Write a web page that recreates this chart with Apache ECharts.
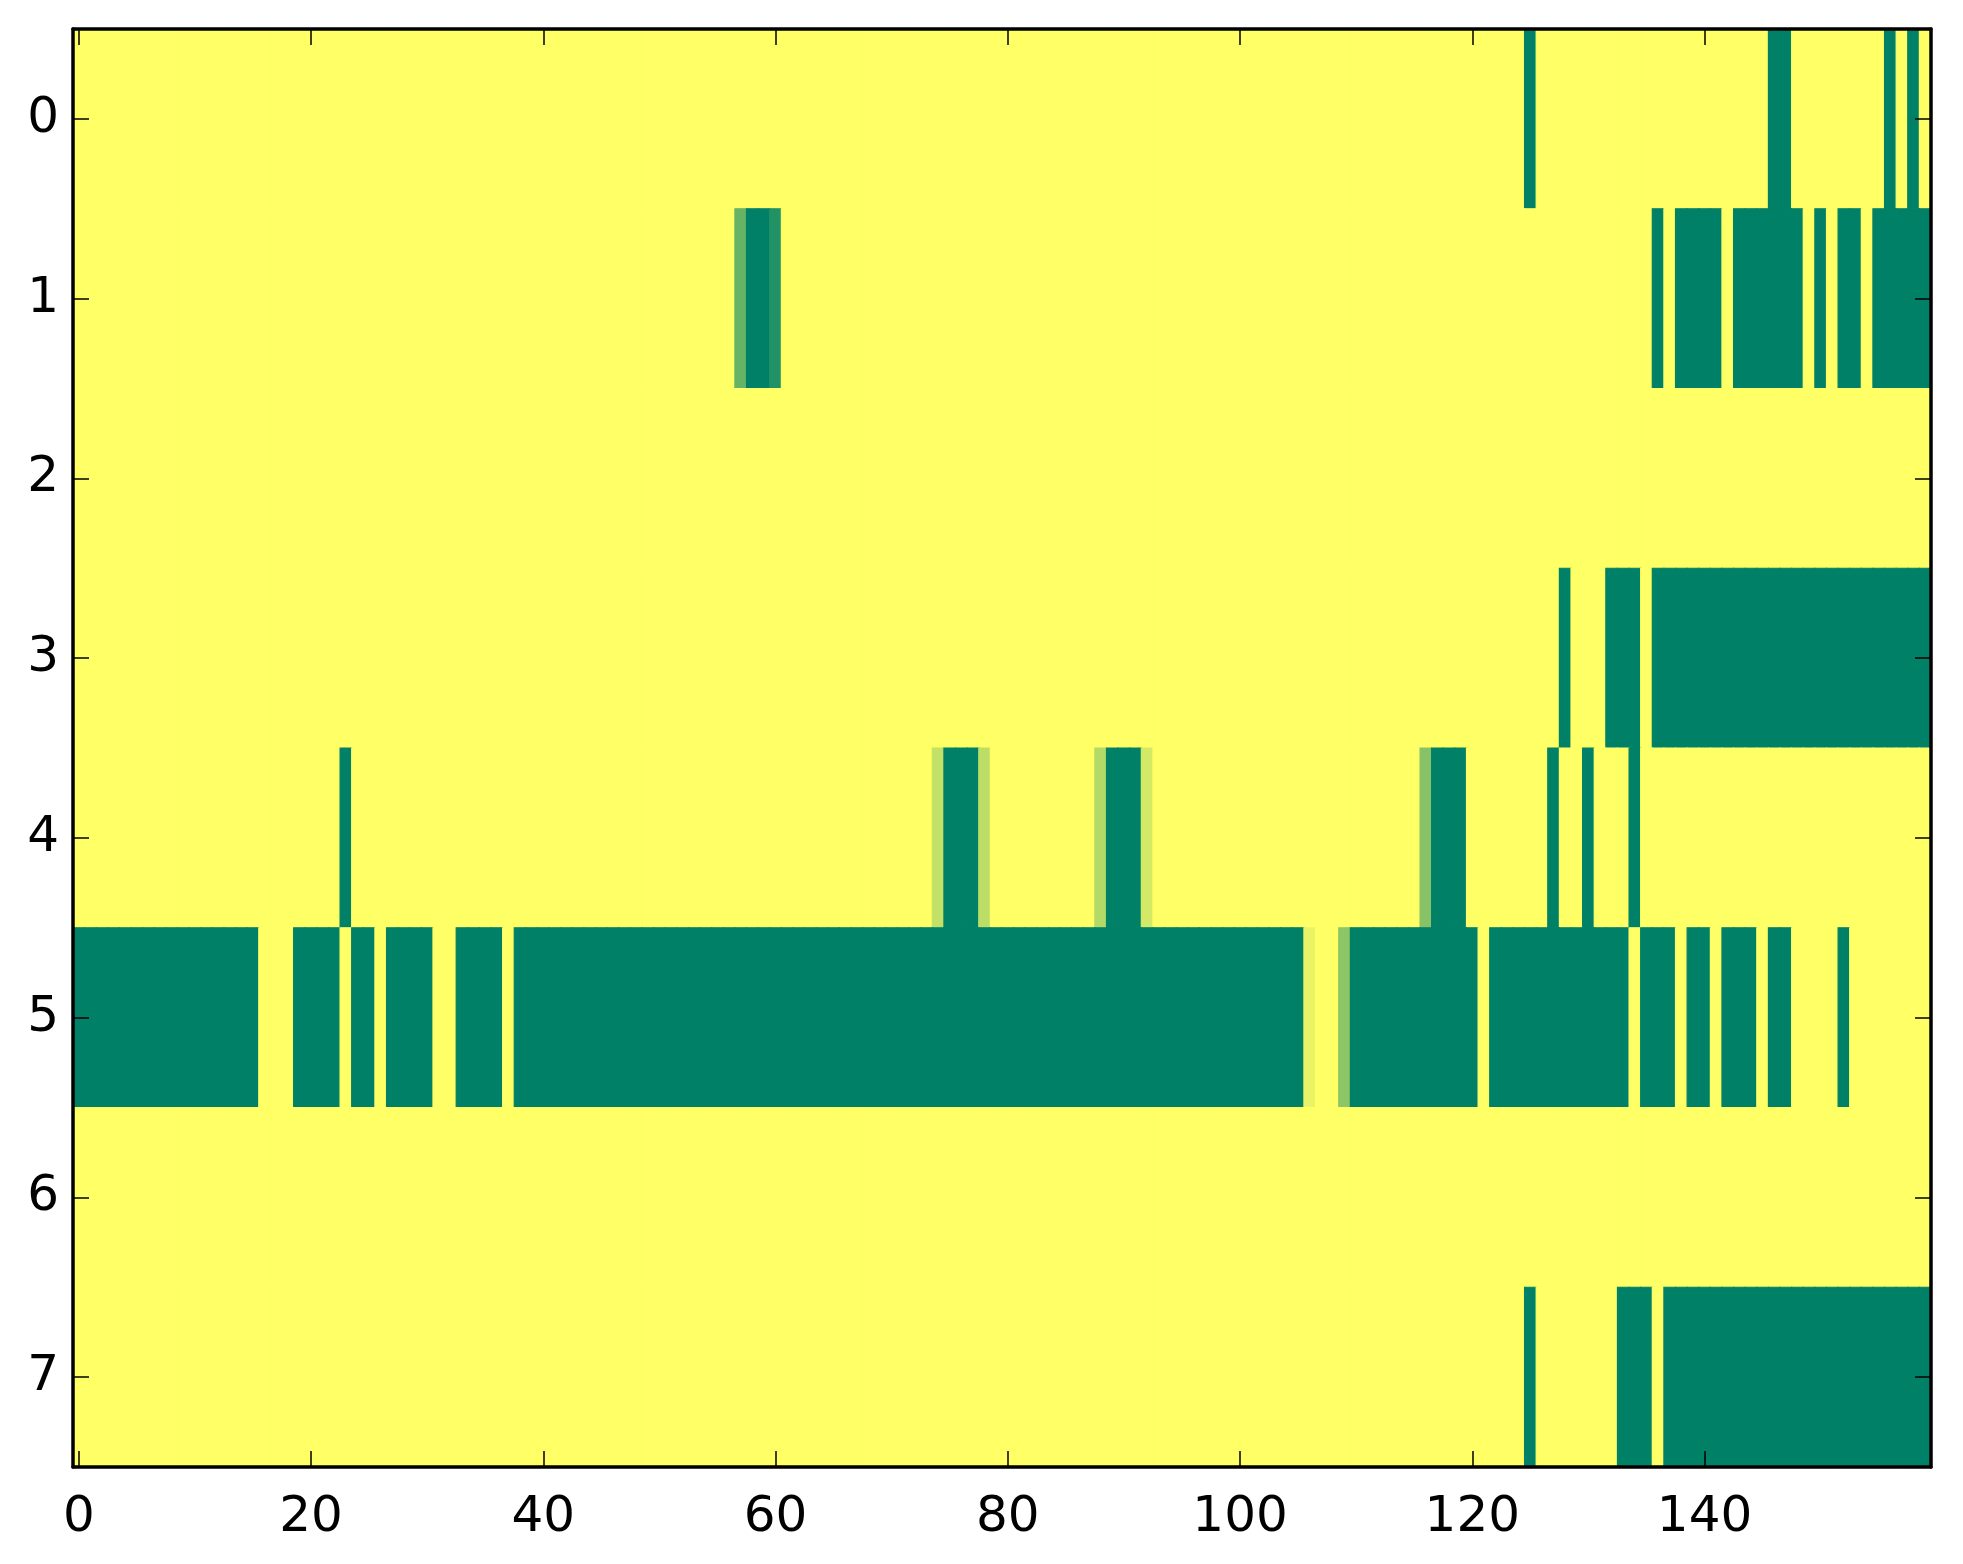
<!DOCTYPE html>
<html>
<head>
<meta charset="utf-8">
<script src="https://cdn.jsdelivr.net/npm/echarts@6/dist/echarts.min.js"></script>
<style>
html,body{margin:0;padding:0;background:#fff;}
#chart{width:1963px;height:1564px;}
</style>
</head>
<body>
<div id="chart"></div>
<script>
// Row values (1 = yellow, 0 = green), 160 columns each
var row0 = [
1,1,1,1,1,1,1,1,1,1,1,1,1,1,1,1,1,1,1,1,
1,1,1,1,1,1,1,1,1,1,1,1,1,1,1,1,1,1,1,1,
1,1,1,1,1,1,1,1,1,1,1,1,1,1,1,1,1,1,1,1,
1,1,1,1,1,1,1,1,1,1,1,1,1,1,1,1,1,1,1,1,
1,1,1,1,1,1,1,1,1,1,1,1,1,1,1,1,1,1,1,1,
1,1,1,1,1,1,1,1,1,1,1,1,1,1,1,1,1,1,1,1,
1,1,1,1,1,0,1,1,1,1,1,1,1,1,1,1,1,1,1,1,
1,1,1,1,1,1,0,0,1,1,1,1,1,1,1,1,0,1,0,1];
var row1 = [
1,1,1,1,1,1,1,1,1,1,1,1,1,1,1,1,1,1,1,1,
1,1,1,1,1,1,1,1,1,1,1,1,1,1,1,1,1,1,1,1,
1,1,1,1,1,1,1,1,1,1,1,1,1,1,1,1,1,0.4,0,0,
0.13,1,1,1,1,1,1,1,1,1,1,1,1,1,1,1,1,1,1,1,
1,1,1,1,1,1,1,1,1,1,1,1,1,1,1,1,1,1,1,1,
1,1,1,1,1,1,1,1,1,1,1,1,1,1,1,1,1,1,1,1,
1,1,1,1,1,1,1,1,1,1,1,1,1,1,1,1,0,1,0,0,
0,0,1,0,0,0,0,0,0,1,0,1,0,0,1,0,0,0,0,0];
var row2 = [
1,1,1,1,1,1,1,1,1,1,1,1,1,1,1,1,1,1,1,1,
1,1,1,1,1,1,1,1,1,1,1,1,1,1,1,1,1,1,1,1,
1,1,1,1,1,1,1,1,1,1,1,1,1,1,1,1,1,1,1,1,
1,1,1,1,1,1,1,1,1,1,1,1,1,1,1,1,1,1,1,1,
1,1,1,1,1,1,1,1,1,1,1,1,1,1,1,1,1,1,1,1,
1,1,1,1,1,1,1,1,1,1,1,1,1,1,1,1,1,1,1,1,
1,1,1,1,1,1,1,1,1,1,1,1,1,1,1,1,1,1,1,1,
1,1,1,1,1,1,1,1,1,1,1,1,1,1,1,1,1,1,1,1];
var row3 = [
1,1,1,1,1,1,1,1,1,1,1,1,1,1,1,1,1,1,1,1,
1,1,1,1,1,1,1,1,1,1,1,1,1,1,1,1,1,1,1,1,
1,1,1,1,1,1,1,1,1,1,1,1,1,1,1,1,1,1,1,1,
1,1,1,1,1,1,1,1,1,1,1,1,1,1,1,1,1,1,1,1,
1,1,1,1,1,1,1,1,1,1,1,1,1,1,1,1,1,1,1,1,
1,1,1,1,1,1,1,1,1,1,1,1,1,1,1,1,1,1,1,1,
1,1,1,1,1,1,1,1,0,1,1,1,0,0,0,1,0,0,0,0,
0,0,0,0,0,0,0,0,0,0,0,0,0,0,0,0,0,0,0,0];
var row4 = [
1,1,1,1,1,1,1,1,1,1,1,1,1,1,1,1,1,1,1,1,
1,1,1,0,1,1,1,1,1,1,1,1,1,1,1,1,1,1,1,1,
1,1,1,1,1,1,1,1,1,1,1,1,1,1,1,1,1,1,1,1,
1,1,1,1,1,1,1,1,1,1,1,1,1,1,0.76,0,0,0,0.74,1,
1,1,1,1,1,1,1,1,0.7,0,0,0,0.83,1,1,1,1,1,1,1,
1,1,1,1,1,1,1,1,1,1,1,1,1,1,1,1,0.53,0,0,0,
1,1,1,1,1,1,1,0,1,1,0,1,1,1,0,1,1,1,1,1,
1,1,1,1,1,1,1,1,1,1,1,1,1,1,1,1,1,1,1,1];
var row5 = [
0,0,0,0,0,0,0,0,0,0,0,0,0,0,0,0,1,1,1,0,
0,0,0,1,0,0,1,0,0,0,0,1,1,0,0,0,0,1,0,0,
0,0,0,0,0,0,0,0,0,0,0,0,0,0,0,0,0,0,0,0,
0,0,0,0,0,0,0,0,0,0,0,0,0,0,0,0,0,0,0,0,
0,0,0,0,0,0,0,0,0,0,0,0,0,0,0,0,0,0,0,0,
0,0,0,0,0,0,0.91,1,1,0.55,0,0,0,0,0,0,0,0,0,0,
0,1,0,0,0,0,0,0,0,0,0,0,0,0,1,0,0,0,1,0,
0,1,0,0,0,1,0,0,1,1,1,1,0,1,1,1,1,1,1,1];
var row6 = [
1,1,1,1,1,1,1,1,1,1,1,1,1,1,1,1,1,1,1,1,
1,1,1,1,1,1,1,1,1,1,1,1,1,1,1,1,1,1,1,1,
1,1,1,1,1,1,1,1,1,1,1,1,1,1,1,1,1,1,1,1,
1,1,1,1,1,1,1,1,1,1,1,1,1,1,1,1,1,1,1,1,
1,1,1,1,1,1,1,1,1,1,1,1,1,1,1,1,1,1,1,1,
1,1,1,1,1,1,1,1,1,1,1,1,1,1,1,1,1,1,1,1,
1,1,1,1,1,1,1,1,1,1,1,1,1,1,1,1,1,1,1,1,
1,1,1,1,1,1,1,1,1,1,1,1,1,1,1,1,1,1,1,1];
var row7 = [
1,1,1,1,1,1,1,1,1,1,1,1,1,1,1,1,1,1,1,1,
1,1,1,1,1,1,1,1,1,1,1,1,1,1,1,1,1,1,1,1,
1,1,1,1,1,1,1,1,1,1,1,1,1,1,1,1,1,1,1,1,
1,1,1,1,1,1,1,1,1,1,1,1,1,1,1,1,1,1,1,1,
1,1,1,1,1,1,1,1,1,1,1,1,1,1,1,1,1,1,1,1,
1,1,1,1,1,1,1,1,1,1,1,1,1,1,1,1,1,1,1,1,
1,1,1,1,1,0,1,1,1,1,1,1,1,0,0,0,1,0,0,0,
0,0,0,0,0,0,0,0,0,0,0,0,0,0,0,0,0,0,0,0];

var yCategories = ['0','1','2','3','4','5','6','7'];
var xTickLabels = ['0','20','40','60','80','100','120','140'];
var summerColors = ['#008066', '#ffff66'];

var rows = [row0,row1,row2,row3,row4,row5,row6,row7];
var xCategories = [];
for (var i = 0; i < row0.length; i++) xCategories.push(String(i));
var data = [];
rows.forEach(function (r, y) {
  r.forEach(function (v, x) { data.push([x, y, v]); });
});

var tickEvery = function (idx, val) { return xTickLabels.indexOf(String(val)) >= 0; };
var axisLineStyle = { show: true, lineStyle: { color: '#000', width: 3.5 } };
var tickStyle = { color: '#000', width: 1.5 };
var font = { color: '#000', fontSize: 50, fontFamily: 'DejaVu Sans' };

var chart = echarts.init(document.getElementById('chart'), null, { renderer: 'canvas' });
chart.setOption({
  backgroundColor: '#ffffff',
  animation: false,
  grid: { left: 73, right: 32, top: 29, bottom: 97, containLabel: false },
  visualMap: { show: false, min: 0, max: 1, dimension: 2, seriesIndex: 0, inRange: { color: summerColors } },
  xAxis: [
    { type: 'category', data: xCategories, position: 'bottom', z: 10,
      axisLine: axisLineStyle,
      axisTick: { show: true, inside: true, length: 16, alignWithLabel: true, interval: tickEvery, lineStyle: tickStyle },
      axisLabel: Object.assign({ interval: tickEvery, margin: 26 }, font),
      splitLine: { show: false } },
    { type: 'category', data: xCategories, position: 'top', z: 10,
      axisLine: axisLineStyle,
      axisTick: { show: true, inside: true, length: 16, alignWithLabel: true, interval: tickEvery, lineStyle: tickStyle },
      axisLabel: { show: false },
      splitLine: { show: false } }
  ],
  yAxis: [
    { type: 'category', data: yCategories, inverse: true, position: 'left', z: 10,
      axisLine: axisLineStyle,
      axisTick: { show: true, inside: true, length: 16, alignWithLabel: true, interval: 0, lineStyle: tickStyle },
      axisLabel: Object.assign({ interval: 0, margin: 14 }, font),
      splitLine: { show: false } },
    { type: 'category', data: yCategories, inverse: true, position: 'right', z: 10,
      axisLine: axisLineStyle,
      axisTick: { show: true, inside: true, length: 16, alignWithLabel: true, interval: 0, lineStyle: tickStyle },
      axisLabel: { show: false },
      splitLine: { show: false } }
  ],
  series: [{
    type: 'custom', xAxisIndex: 0, yAxisIndex: 0, data: data, clip: true,
    encode: { x: 0, y: 1 },
    renderItem: function (params, api) {
      var c = api.coord([api.value(0), api.value(1)]);
      var s = api.size([1, 1]);
      var col = api.visual('color');
      return {
        type: 'rect',
        shape: { x: c[0] - s[0] / 2, y: c[1] - s[1] / 2, width: s[0], height: s[1] },
        style: { fill: col, stroke: col, lineWidth: 1.2 }
      };
    },
    silent: true,
    z: 1
  }]
});
</script>
</body>
</html>
